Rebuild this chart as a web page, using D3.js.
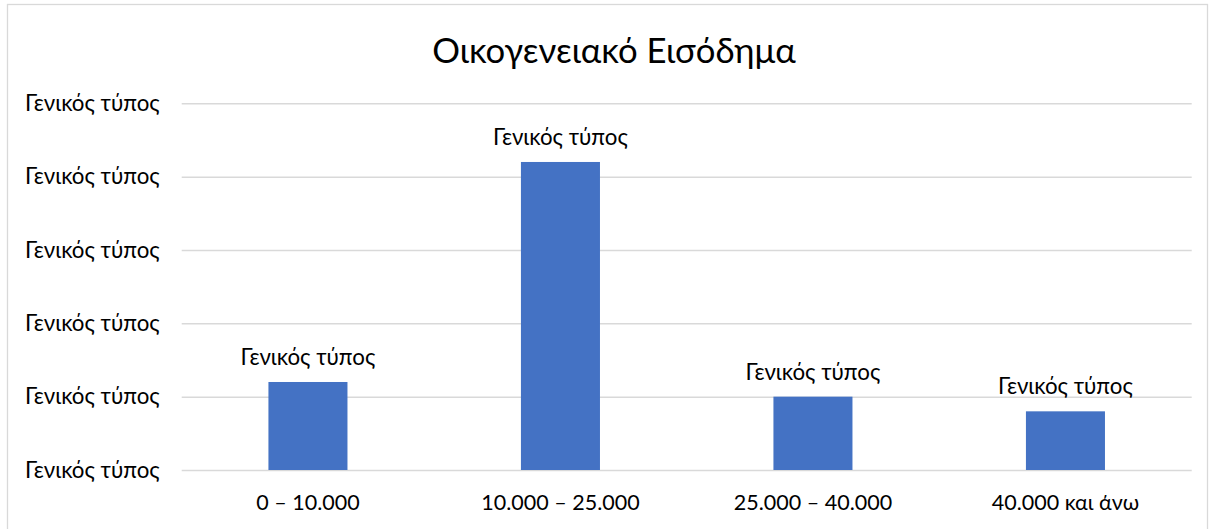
<!DOCTYPE html>
<html><head><meta charset="utf-8">
<script src="https://cdn.jsdelivr.net/npm/d3@7"></script>
<style>html,body{margin:0;padding:0;background:#fff;}svg{display:block;}</style>
</head><body>
<script>
const title = "Οικογενειακό Εισόδημα";
const categories = ["0 – 10.000", "10.000 – 25.000", "25.000 – 40.000", "40.000 και άνω"];
const values = [1.2, 4.2, 1.0, 0.8];
const tickValues = [0, 1, 2, 3, 4, 5];
const tickLabel = "Γενικός τύπος";
const dataLabel = "Γενικός τύπος";

const W = 1212, H = 529;
const m = {left: 181.7, right: 1191.7, top: 103.3, bottom: 470};
const FONT = "Lato, 'Noto Sans', sans-serif";

const svg = d3.select("body").append("svg").attr("width", W).attr("height", H);
svg.append("rect").attr("x", 7.5).attr("y", 4.5).attr("width", 1200).attr("height", 530)
  .attr("fill", "#fff").attr("stroke", "#d9d9d9").attr("stroke-width", 1.3);

const x = d3.scaleBand().domain(categories).range([m.left, m.right])
  .paddingInner(0.687).paddingOuter(0.3435);
const y = d3.scaleLinear().domain([0, 5]).range([m.bottom, m.top]);

// gridlines
const yAxis = d3.axisLeft(y).tickValues(tickValues).tickSize(-(m.right - m.left))
  .tickFormat(() => tickLabel).tickPadding(22);
const gy = svg.append("g").attr("transform", `translate(${m.left},0)`).call(yAxis);
gy.select(".domain").remove();
gy.selectAll(".tick line").attr("stroke", "#d9d9d9").attr("stroke-width", 1.5);
gy.selectAll(".tick text").attr("font-family", FONT).attr("font-size", 22.3).attr("fill", "#000");

// x axis labels
const xAxis = d3.axisBottom(x).tickSize(0).tickPadding(0);
const gx = svg.append("g").attr("transform", `translate(0,${m.bottom})`).call(xAxis);
gx.select(".domain").remove();
gx.selectAll(".tick text").attr("font-family", FONT).attr("font-size", 21.5).attr("fill", "#000")
  .attr("dy", null).attr("y", 40);

// bars
svg.append("g").selectAll("rect").data(values).join("rect")
  .attr("x", (d, i) => x(categories[i]))
  .attr("width", x.bandwidth())
  .attr("y", d => y(d))
  .attr("height", d => y(0) - y(d))
  .attr("fill", "#4472c4");

// data labels
svg.append("g").selectAll("text").data(values).join("text")
  .attr("x", (d, i) => x(categories[i]) + x.bandwidth() / 2)
  .attr("y", d => y(d) - 17)
  .attr("text-anchor", "middle")
  .attr("font-family", FONT).attr("font-size", 22.3).attr("fill", "#000")
  .text(dataLabel);

// title
svg.append("text").attr("x", 614).attr("y", 63).attr("text-anchor", "middle")
  .attr("font-family", FONT).attr("font-size", 34.7).attr("fill", "#000").text(title);
</script>
</body></html>
